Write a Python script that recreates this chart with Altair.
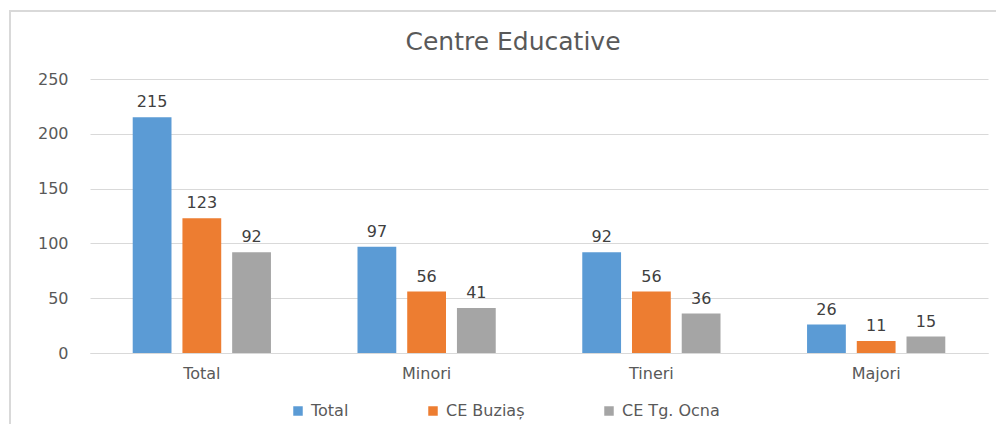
import altair as alt
import pandas as pd

categories = ["Total", "Minori", "Tineri", "Majori"]
series = ["Total", "CE Buziaș", "CE Tg. Ocna"]
values_total = [215, 97, 92, 26]
values_buzias = [123, 56, 56, 11]
values_ocna = [92, 41, 36, 15]
colors = ["#5B9BD5", "#ED7D31", "#A5A5A5"]
y_ticks = [0, 50, 100, 150, 200, 250]

rows = []
for s, vals in zip(series, [values_total, values_buzias, values_ocna]):
    for c, v in zip(categories, vals):
        rows.append({"cat": c, "series": s, "value": v})
df = pd.DataFrame(rows)

FONT = "DejaVu Sans"
TXT = "#595959"

base = alt.Chart(df).encode(
    x=alt.X("cat:N", sort=categories,
            scale=alt.Scale(paddingInner=0.385, paddingOuter=0.19),
            axis=alt.Axis(title=None, labelAngle=0, ticks=False, domainColor="#D9D9D9",
                          labelPadding=12, labelFontSize=16, labelColor=TXT, labelFont=FONT)),
    xOffset=alt.XOffset("series:N", sort=series, scale=alt.Scale(paddingInner=0.22)),
    y=alt.Y("value:Q", scale=alt.Scale(domain=[0, 250]),
            axis=alt.Axis(values=y_ticks, title=None, domain=False, ticks=False,
                          gridColor="#D9D9D9", labelPadding=22, labelFontSize=16,
                          labelColor=TXT, labelFont=FONT)),
)

bars = base.mark_bar().encode(
    color=alt.Color("series:N", sort=series,
                    scale=alt.Scale(domain=series, range=colors),
                    legend=alt.Legend(title=None, orient="none", legendX=200, legendY=324,
                                      direction="horizontal", columns=3, symbolType="square",
                                      symbolSize=90, symbolStrokeWidth=0, columnPadding=76,
                                      labelFontSize=16, labelColor=TXT, labelFont=FONT,
                                      labelOffset=5))
)

labels = base.mark_text(dy=-15, fontSize=16, font=FONT, color="#404040").encode(
    text=alt.Text("value:Q")
)

frame = alt.Chart(pd.DataFrame({"k": [0]})).mark_rect(
    fill="transparent", stroke="#D9D9D9", strokeWidth=2
).encode(x=alt.value(-80), x2=alt.value(930), y=alt.value(-68), y2=alt.value(370))

chart = alt.layer(frame, bars, labels).properties(
    width=898, height=274,
    title=alt.TitleParams("Centre Educative", fontSize=25, fontWeight="normal", color=TXT,
                          font=FONT, dx=-26, offset=-45, anchor="middle", frame="group"),
    autosize=alt.AutoSizeParams(type="none"),
    padding={"left": 82, "top": 71, "right": 8, "bottom": 71},
).configure_view(stroke=None)

chart.save("out.html", embed_options={"renderer": "svg", "actions": False})
